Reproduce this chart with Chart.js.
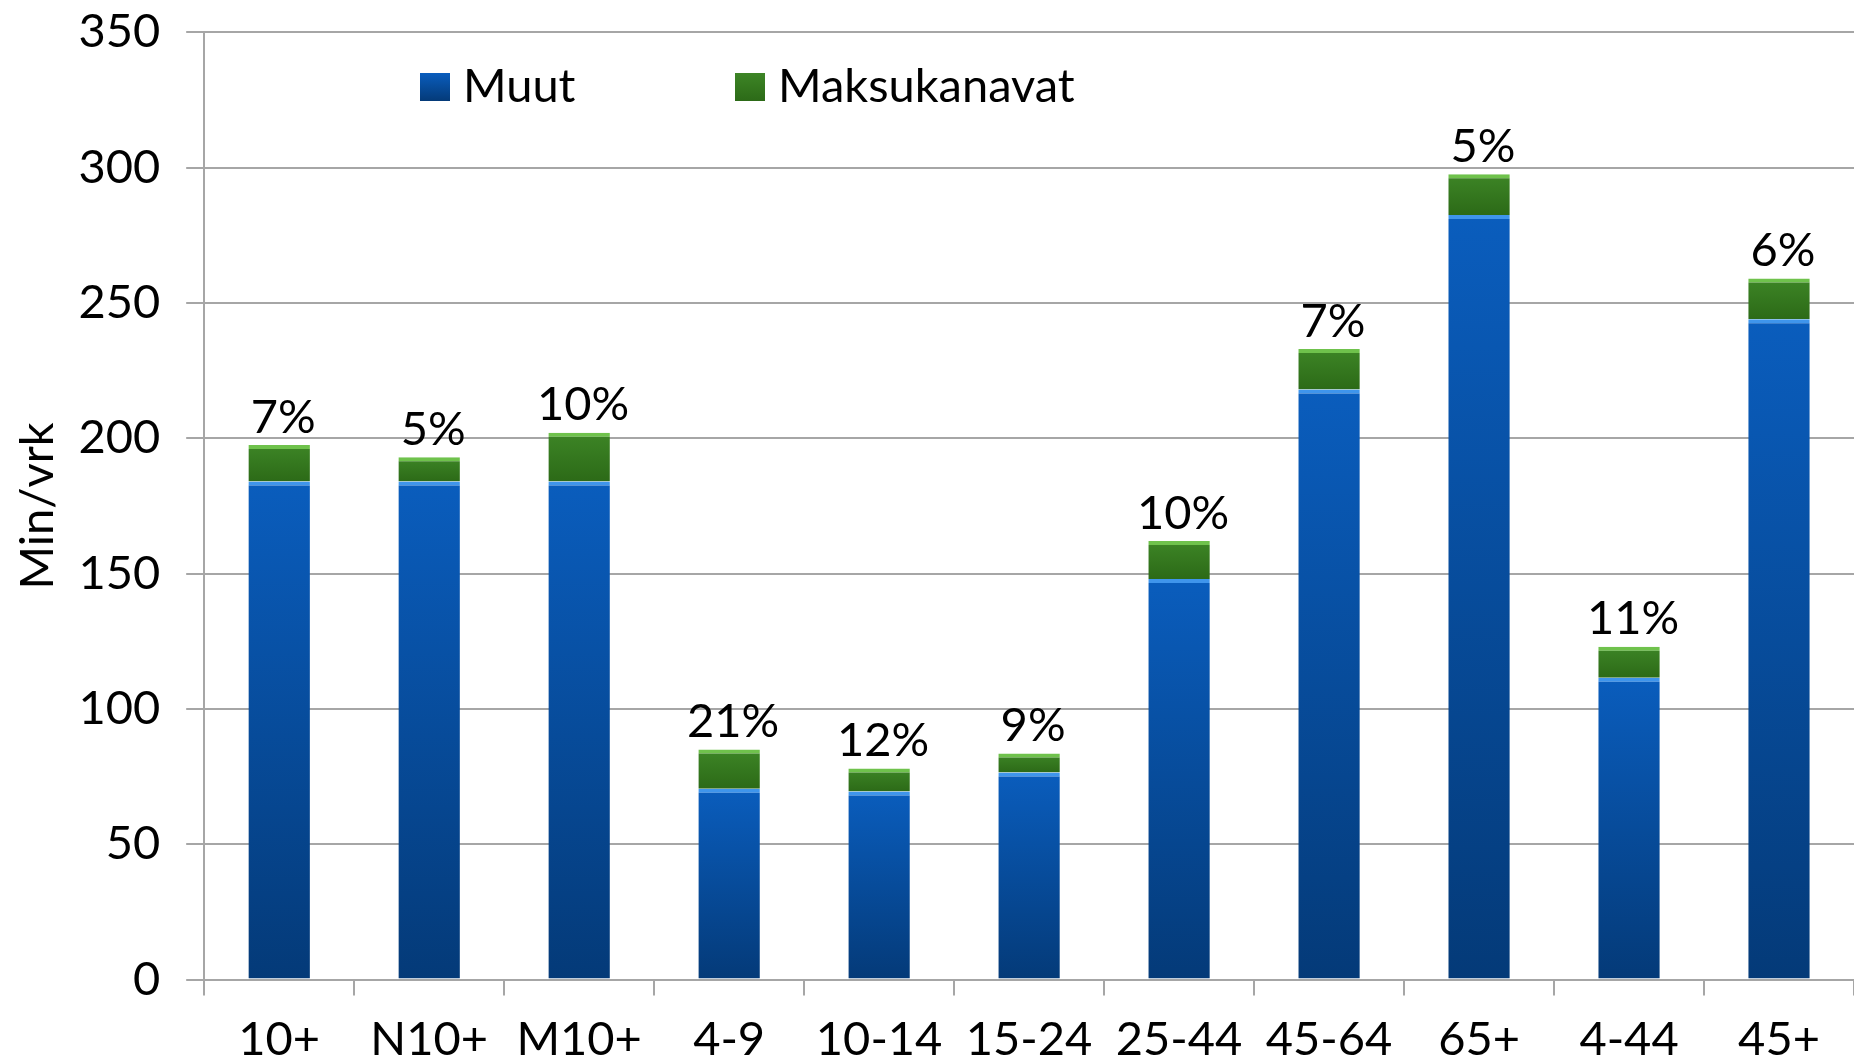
<!DOCTYPE html>
<html>
<head>
<meta charset="utf-8">
<script src="https://cdn.jsdelivr.net/npm/chart.js@4"></script>
<style>
  html, body { margin: 0; padding: 0; background: #fff; overflow: hidden; }
  #wrap { position: relative; top: -22px; width: 1854px; height: 1106px; }
</style>
</head>
<body>
<div id="wrap"><canvas id="tvChart"></canvas></div>
<script>
// data (min/vrk)
const categories = ['10+', 'N10+', 'M10+', '4-9', '10-14', '15-24', '25-44', '45-64', '65+', '4-44', '45+'];
const muut = [184, 184, 184, 70.5, 69.5, 76.5, 148, 218, 282.5, 111.5, 244];
const maksukanavat = [13.5, 9, 18, 14.5, 8.5, 7, 14, 15, 15, 11.5, 15];
const shareLabels = ['7%', '5%', '10%', '21%', '12%', '9%', '10%', '7%', '5%', '11%', '6%'];
const yMin = 0, yMax = 350, yStep = 50;

const FONT = 'Lato, "Open Sans", sans-serif';

// gradient per bar segment, built from the bar's own value range
function segGradient(ctx, stops, base) {
    const chart = ctx.chart;
    const y = chart.scales && chart.scales.y;
    if (!chart.chartArea || !y || ctx.dataIndex === undefined) return stops[1];
    const start = base ? base[ctx.dataIndex] : 0;
    const top = y.getPixelForValue(start + ctx.raw);
    const bottom = y.getPixelForValue(start);
    if (!isFinite(top) || !isFinite(bottom) || top === bottom) return stops[1];
    const g = chart.ctx.createLinearGradient(0, top, 0, bottom);
    g.addColorStop(0, stops[0]);
    g.addColorStop(1, stops[1]);
    return g;
}

const blueStops = ['#0a5dbd', '#043a78'];
const greenStops = ['#3d8526', '#2c6a17'];

// legend drawn inside the plot area (canvas is shifted up 22px)
const innerLegend = {
    id: 'innerLegend',
    afterDraw(chart) {
        const c = chart.ctx;
        const items = [
            { text: 'Muut', stops: blueStops, x: 420 },
            { text: 'Maksukanavat', stops: greenStops, x: 735 }
        ];
        const top = 95;
        c.save();
        c.font = '47px ' + FONT;
        c.textBaseline = 'middle';
        items.forEach(function(it) {
            const g = c.createLinearGradient(0, top, 0, top + 28);
            g.addColorStop(0, it.stops[0]);
            g.addColorStop(1, it.stops[1]);
            c.fillStyle = g;
            c.fillRect(it.x, top, 30, 28);
            c.fillStyle = '#000';
            c.fillText(it.text, it.x + 43, top + 14);
        });
        c.restore();
    }
};

// percentage labels above each stacked bar
const shareLabelPlugin = {
    id: 'shareLabels',
    afterDatasetsDraw(chart) {
        const c = chart.ctx;
        const meta = chart.getDatasetMeta(1);
        c.save();
        c.font = '47px ' + FONT;
        c.fillStyle = '#000';
        c.textAlign = 'center';
        c.textBaseline = 'bottom';
        meta.data.forEach(function(bar, i) {
            c.fillText(shareLabels[i], bar.x + 4, bar.y - 4);
        });
        c.restore();
    }
};

const ctx = document.getElementById('tvChart').getContext('2d');
const tvChart = new Chart(ctx, {
    type: 'bar',
    data: {
        labels: categories,
        datasets: [{
            label: 'Muut',
            data: muut,
            backgroundColor: function(context) { return segGradient(context, blueStops, null); },
            borderColor: '#3f95ec',
            borderWidth: { top: 4, left: 0, right: 0, bottom: 0 },
            borderSkipped: false,
            barPercentage: 0.41,
            categoryPercentage: 1
        }, {
            label: 'Maksukanavat',
            data: maksukanavat,
            backgroundColor: function(context) { return segGradient(context, greenStops, muut); },
            borderColor: '#6fc24c',
            borderWidth: { top: 4, left: 0, right: 0, bottom: 0 },
            borderSkipped: false,
            barPercentage: 0.41,
            categoryPercentage: 1
        }]
    },
    options: {
        responsive: true,
        maintainAspectRatio: false,
        animation: false,
        layout: {
            padding: { top: 0, left: -4, right: 0, bottom: 0 }
        },
        plugins: {
            legend: { display: false },
            tooltip: { enabled: false }
        },
        scales: {
            x: {
                stacked: true,
                grid: {
                    offset: true,
                    drawOnChartArea: false,
                    drawTicks: true,
                    tickLength: 16,
                    color: '#a6a6a6',
                    lineWidth: 2
                },
                border: { color: '#a6a6a6', width: 2 },
                ticks: {
                    color: '#000',
                    padding: 16,
                    maxRotation: 0,
                    autoSkip: false,
                    font: { family: FONT, size: 47 }
                }
            },
            y: {
                stacked: true,
                min: yMin,
                max: yMax,
                ticks: {
                    stepSize: yStep,
                    color: '#000',
                    padding: 26,
                    font: { family: FONT, size: 47 }
                },
                grid: {
                    color: '#a6a6a6',
                    lineWidth: 2,
                    tickLength: 18
                },
                border: { color: '#a6a6a6', width: 2 },
                title: {
                    display: true,
                    text: 'Min/vrk',
                    color: '#000',
                    padding: { top: 14, bottom: -14 },
                    font: { family: FONT, size: 47 }
                }
            }
        }
    },
    plugins: [innerLegend, shareLabelPlugin]
});
</script>
</body>
</html>
